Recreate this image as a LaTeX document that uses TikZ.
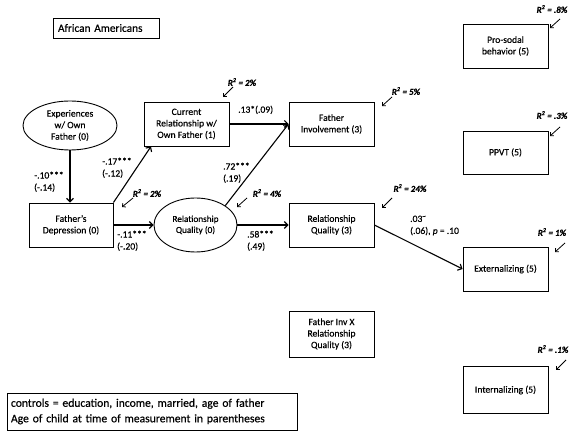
\documentclass[tikz,border=0pt]{standalone}
\usepackage{fontspec}
\setmainfont{Carlito}[FakeBold=0.4]
\usetikzlibrary{arrows.meta,shapes.geometric}
\begin{document}
\begin{tikzpicture}[x=1pt,y=-1pt,
  box/.style={draw,line width=0.9pt,minimum width=85pt,minimum height=44pt,inner sep=1pt,align=center,font=\fontsize{9.6}{11.5}\selectfont},
  ell/.style={draw,ellipse,line width=0.9pt,inner sep=0pt,align=center,font=\fontsize{9.6}{11.5}\selectfont},
  conn/.style={line width=1.1pt,-{Straight Barb[length=3.5pt,width=7pt,line width=1.1pt]}},
  rarr/.style={line width=0.8pt,-{Straight Barb[length=2.5pt,width=5pt,line width=0.8pt]}},
  rlab/.style={font=\fontsize{9}{10}\selectfont\bfseries\itshape,inner sep=0pt},
  elab/.style={font=\fontsize{9.6}{12}\selectfont,align=left,inner sep=0pt,anchor=north west}]
\useasboundingbox (0,0) rectangle (581,438);
\fill[white] (0,0) rectangle (581,438);

\node[draw,line width=0.9pt,minimum width=106pt,minimum height=20pt,inner sep=0pt,font=\fontsize{11.3}{13}\selectfont,text width=96pt,align=left] (aa) at (106,28) {African Americans};

\node[ell,minimum width=94pt,minimum height=49pt] (exp) at (70,125.5) {Experiences\\ w/ Own\\ Father (0)};
\node[box] (cur) at (186.5,124) {Current\\ Relationship w/\\ Own Father (1)};
\node[box] (fi) at (331.5,124) {Father\\ Involvement (3)};
\node[box] (pro) at (505.5,46) {Pro-sodal\\ behavior (5)};
\node[box,minimum height=43pt] (ppvt) at (505.5,152.5) {PPVT (5)};
\node[box,minimum width=84pt] (fd) at (71,225) {Father's\\ Depression (0)};
\node[ell,minimum width=83pt,minimum height=54pt,font=\fontsize{9.2}{11}\selectfont] (rq0) at (195.5,225) {Relationship\\ Quality (0)};
\node[box] (rq3) at (331.5,225) {Relationship\\ Quality (3)};
\node[box] (ext) at (505.5,269) {Externalizing (5)};
\node[box,minimum height=46pt] (fix) at (331.5,334) {Father Inv X\\ Relationship\\ Quality (3)};
\node[box,minimum height=47pt] (int) at (505.5,390) {Internalizing (5)};
\node[draw,line width=0.9pt,minimum width=290pt,minimum height=37pt,inner sep=0pt,text width=282pt,align=left,font=\fontsize{11.6}{15.5}\selectfont] (ctrl) at (152,411.5) {controls = education, income, married, age of father\\ Age of child at time of measurement in parentheses};

% connectors
\draw[conn] (exp.south) -- (fd.north -| exp.south);
\draw[conn] (fd.north east) -- (cur.south west -| 151,0);
\draw[conn] (fd.east) -- (rq0.west);
\draw[conn] (cur.east) -- (fi.west);
\draw[conn] (rq0.33) -- (fi.west);
\draw[conn] (rq0.east) -- (rq3.west);
\draw[conn] (rq3.east) -- (ext.west);

% edge labels
\node[elab] (l1) at (34,171.5) {-.10***\\(-.14)};
\node[elab] (l2) at (102,157.5) {-.17***\\(-.12)};
\node[elab] (l3) at (117,230.5) {-.11***\\(-.20)};
\node[elab] (l4) at (238,105.5) {.13*(.09)};
\node[elab] (l5) at (223,162.5) {.72***\\(.19)};
\node[elab] (l6) at (247,230.5) {.58***\\(.49)};
\node[elab] (l7) at (410,215.5) {.03\textsuperscript{\textasciitilde}\\(.06), \textit{p} = .10};

% R2 labels
\node[rlab] (r1) at (242,82) {R\textsuperscript{2} = 2\%};
\node[rlab] (r2) at (406,91) {R\textsuperscript{2} = 5\%};
\node[rlab] (r3) at (552,9) {R\textsuperscript{2} = .8\%};
\node[rlab] (r4) at (552,115) {R\textsuperscript{2} = .3\%};
\node[rlab] (r5) at (147,193) {R\textsuperscript{2} = 2\%};
\node[rlab] (r6) at (267,193) {R\textsuperscript{2} = 4\%};
\node[rlab] (r7) at (410,188) {R\textsuperscript{2} = 24\%};
\node[rlab] (r8) at (552,232) {R\textsuperscript{2} = 1\%};
\node[rlab] (r9) at (553,349) {R\textsuperscript{2} = .1\%};

\coordinate (a1) at (233,87); \coordinate (b1) at (223,97);
\coordinate (a2) at (392,97); \coordinate (b2) at (382,106);
\coordinate (a3) at (560,19); \coordinate (b3) at (550,28);
\coordinate (a4) at (560,127); \coordinate (b4) at (550,136);
\coordinate (a5) at (133,198); \coordinate (b5) at (122,207);
\coordinate (a6) at (247,198); \coordinate (b6) at (237,207);
\coordinate (a7) at (392,198); \coordinate (b7) at (382,208);
\coordinate (a8) at (565,243); \coordinate (b8) at (555,252);
\coordinate (a9) at (566,360); \coordinate (b9) at (556,370);
\foreach \i in {1,...,9} {\draw[rarr] (a\i) -- (b\i);}
\end{tikzpicture}
\end{document}
